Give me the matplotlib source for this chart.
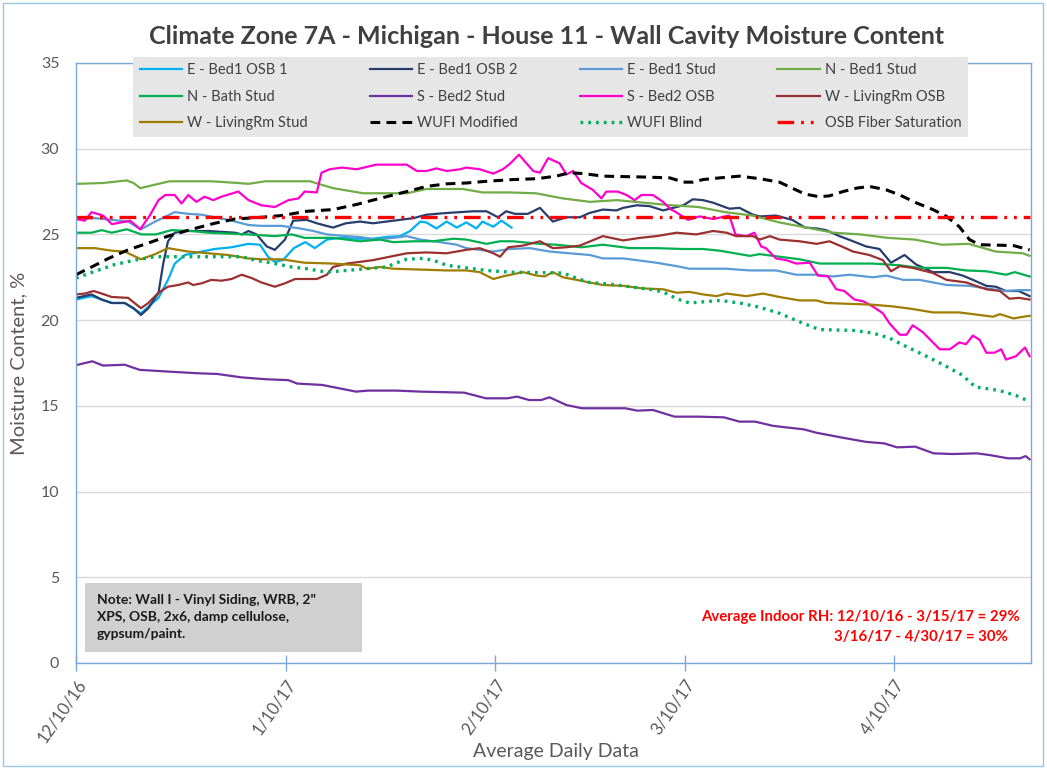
import numpy as np
import pandas as pd
import matplotlib
matplotlib.use('Agg')
import matplotlib.pyplot as plt
from matplotlib.patches import Rectangle

plt.rcParams['font.family'] = ['Lato', 'DejaVu Sans']
plt.rcParams['lines.scale_dashes'] = False

start = pd.Timestamp('2016-12-10')
tick_labels = ['12/10/16', '1/10/17', '2/10/17', '3/10/17', '4/10/17']
y_ticks = [0, 5, 10, 15, 20, 25, 30, 35]

# (days after 12/10/16, moisture content %)
e_osb1 = np.array([(0, 21.2), (2.3, 21.4), (5.3, 21.0), (7.2, 21.0), (9.6, 20.4), (12.2, 21.3),
                   (13.6, 22.35), (14.6, 23.3), (16.1, 23.8), (18.6, 24.0), (20.5, 24.15), (23, 24.25),
                   (25.5, 24.45), (27.2, 24.4), (28.4, 23.7), (29.4, 23.4), (30.6, 23.5), (32.2, 24.2),
                   (33.9, 24.55), (35.3, 24.2), (37.1, 24.7), (39, 24.8), (41.5, 24.75), (43.9, 24.75),
                   (45.9, 24.85), (47.9, 24.9), (49.4, 25.2), (50.9, 25.75), (51.8, 25.7), (53.3, 25.35),
                   (54.8, 25.75), (56.3, 25.4), (57.7, 25.7), (59.2, 25.35), (60.1, 25.75), (61.7, 25.45),
                   (62.9, 25.8), (64.4, 25.4)])

e_osb2 = np.array([(0, 21.3), (2.3, 21.5), (3.8, 21.2), (5.3, 21.0), (7.2, 21.0), (8.5, 20.7), (9.6, 20.3),
                   (10.7, 20.7), (12.2, 21.6), (12.9, 23.3), (13.6, 24.6), (14.6, 25.1), (16.1, 25.2),
                   (19.6, 25.2), (23.5, 25.1), (24.5, 25.0), (25.5, 25.2), (26.7, 25.0), (28.2, 24.3),
                   (29.4, 24.1), (30.9, 24.7), (32.1, 25.8), (34.1, 25.85), (35.6, 25.65), (38, 25.4),
                   (39.9, 25.65), (42, 25.75), (43.9, 25.65), (45.9, 25.75), (49.9, 25.95), (51.8, 26.15),
                   (54.8, 26.25), (58.7, 26.35), (60.7, 26.35), (62.4, 26.0), (63.6, 26.35), (64.9, 26.2),
                   (66.8, 26.2), (68.6, 26.55), (70.5, 25.75), (72.5, 26.0), (74.5, 26.0), (75.9, 26.25),
                   (77.9, 26.45), (79.9, 26.4), (80.9, 26.55), (82.9, 26.7), (84.8, 26.65), (86.8, 26.4),
                   (89.8, 26.7), (91.2, 27.05), (92.7, 27.0), (94.2, 26.85), (96.6, 26.5), (98.1, 26.55),
                   (100.1, 26.15), (101.1, 26.05), (103.5, 26.1), (105.9, 25.85), (107.8, 25.4),
                   (109.5, 25.35), (110.9, 25.25), (112.9, 24.9), (114.9, 24.6), (116.8, 24.3),
                   (118.8, 24.15), (120.5, 23.35), (122.5, 23.8), (124.2, 23.25), (126.7, 22.8),
                   (129.2, 22.8), (131.1, 22.6), (132.6, 22.35), (134.6, 22.0), (136, 21.95), (137.5, 21.7),
                   (139.4, 21.7), (141, 21.4)])

e_stud = np.array([(0, 25.9), (2.8, 25.95), (5.3, 25.85), (7.7, 25.75), (9.6, 25.3), (11.7, 25.75),
                   (14.6, 26.3), (16.6, 26.2), (18.6, 26.15), (20.5, 26.0), (22.5, 25.85), (25.5, 25.55),
                   (27.4, 25.5), (30.4, 25.5), (33.1, 25.35), (35.1, 25.2), (37.1, 25.0), (40, 24.9),
                   (42, 24.85), (44.4, 24.7), (46.9, 24.8), (48.9, 24.9), (50.9, 24.7), (53.8, 24.55),
                   (56.3, 24.4), (57.7, 24.2), (59.7, 24.1), (61.7, 24.0), (64.1, 24.15), (67.1, 24.2),
                   (70.1, 24.0), (73, 23.9), (76, 23.8), (77.9, 23.6), (80.9, 23.6), (82.9, 23.5),
                   (85.8, 23.35), (88.8, 23.15), (90.7, 23.0), (96.1, 23.0), (99.6, 22.9), (103.5, 22.9),
                   (106.5, 22.65), (109.5, 22.65), (111.9, 22.55), (114.4, 22.65), (117.8, 22.5),
                   (119.8, 22.6), (122.3, 22.35), (124.7, 22.35), (128.7, 22.05), (132.1, 22.0),
                   (134.6, 21.85), (137.5, 21.7), (139.4, 21.75), (141, 21.75)])

n_bed_stud = np.array([(0, 27.95), (4, 28.0), (7.5, 28.15), (8.5, 28.0), (9.5, 27.7), (12.2, 27.95),
                       (13.8, 28.1), (20, 28.1), (24, 28.0), (25.5, 27.95), (28, 28.1), (34.6, 28.1),
                       (38, 27.7), (42.5, 27.4), (48.9, 27.4), (51.8, 27.65), (57.2, 27.65), (60.1, 27.45),
                       (64, 27.45), (68, 27.4), (72, 27.1), (76, 26.9), (80, 27.0), (84, 26.85), (88, 26.7),
                       (92, 26.6), (96, 26.3), (100, 26.1), (104, 25.7), (108, 25.4), (112, 25.1),
                       (116, 25.0), (120, 24.8), (124, 24.7), (128, 24.4), (132, 24.45), (136, 24.0),
                       (140, 23.9), (141, 23.75)])

n_bath_stud = np.array([(0, 25.1), (2.3, 25.1), (3.8, 25.25), (5.3, 25.1), (7.5, 25.3), (9.7, 25.0),
                        (11.8, 25.0), (14.1, 25.25), (17.1, 25.2), (19.6, 25.1), (22.5, 25.05), (25.5, 25.0),
                        (29.4, 24.9), (31.9, 25.0), (33.8, 24.8), (38, 24.8), (42, 24.6), (44.9, 24.7),
                        (46.9, 24.55), (49.9, 24.6), (52.8, 24.6), (55.8, 24.75), (57.7, 24.7),
                        (60.7, 24.45), (62.7, 24.6), (64.6, 24.6), (68.6, 24.45), (71, 24.4), (74.7, 24.25),
                        (77.9, 24.4), (81.9, 24.2), (85.8, 24.2), (89.8, 24.15), (92.7, 24.15),
                        (95.2, 24.05), (99.6, 23.75), (101.1, 23.85), (104, 23.7), (107, 23.55), (110, 23.3),
                        (113.9, 23.3), (117.8, 23.3), (121.8, 23.2), (124.7, 23.05), (128.7, 23.05),
                        (131.6, 22.9), (134.6, 22.85), (137.5, 22.65), (138.8, 22.8), (141, 22.55)])

s_bed_stud = np.array([(0.3, 17.4), (2.4, 17.6), (4, 17.35), (7.2, 17.4), (9.4, 17.1), (13.6, 17.0),
                       (18.1, 16.9), (20.9, 16.86), (24.5, 16.66), (28.2, 16.55), (31.4, 16.5), (32.7, 16.3),
                       (36.4, 16.22), (38.2, 16.08), (41.4, 15.83), (43.2, 15.89), (47.4, 15.89),
                       (51, 15.83), (57.4, 15.77), (60.6, 15.44), (63.8, 15.44), (65.2, 15.54), (67, 15.34),
                       (68.8, 15.34), (70, 15.5), (72.5, 15.05), (74.8, 14.86), (81.2, 14.86), (83, 14.72),
                       (85.3, 14.76), (88.5, 14.37), (92.1, 14.37), (95.8, 14.33), (98.1, 14.08),
                       (100.4, 14.08), (103.1, 13.83), (107.6, 13.63), (109.5, 13.43), (113.1, 13.16),
                       (116.8, 12.9), (119.5, 12.81), (121.4, 12.58), (124.1, 12.62), (126.8, 12.23),
                       (129.6, 12.19), (133.2, 12.23), (135.1, 12.13), (137.8, 11.94), (139.6, 11.94),
                       (140.4, 12.07), (141, 11.88)])

s_bed_osb = np.array([(0, 25.9), (1.3, 25.8), (2.3, 26.3), (4, 26.1), (5.3, 25.6), (6.7, 25.7), (8, 25.8),
                      (9.5, 25.3), (10.9, 26.1), (12.2, 27.0), (13.2, 27.3), (14.6, 27.3), (15.6, 26.8),
                      (16.6, 27.3), (17.8, 26.9), (19, 27.2), (20.3, 27.0), (21.5, 27.2), (24, 27.5),
                      (25.5, 27.0), (27.4, 26.7), (29.4, 26.6), (31.4, 27.0), (32.9, 27.1), (33.8, 27.5),
                      (35.6, 27.45), (36.3, 28.6), (37.5, 28.8), (39.3, 28.9), (41.5, 28.8), (44.4, 29.07),
                      (48.9, 29.07), (50.4, 28.7), (51.8, 28.7), (53.3, 28.85), (54.8, 28.7), (56.8, 28.8),
                      (57.7, 28.9), (59.7, 28.8), (61.7, 28.55), (63.1, 28.8), (64.1, 29.1), (65.5, 29.65),
                      (67.6, 28.7), (68.6, 28.6), (69.8, 29.45), (71.5, 29.15), (72.5, 28.5), (73.5, 28.7),
                      (74.7, 28.0), (76.4, 27.6), (77.7, 27.1), (78.4, 27.5), (80.1, 27.5), (81.4, 27.3),
                      (82.6, 27.0), (83.6, 27.3), (85.3, 27.3), (86.8, 26.9), (88, 26.45), (88.5, 26.35),
                      (90.5, 25.85), (92.2, 26.05), (94.2, 25.9), (96.6, 26.1), (97.5, 25.0), (99.1, 24.9),
                      (100.3, 25.1), (101.3, 24.3), (102, 24.2), (103.5, 23.6), (105, 23.5), (106.5, 23.3),
                      (108.5, 23.35), (109.7, 22.6), (111.2, 22.55), (112.4, 21.8), (113.6, 21.7),
                      (115.1, 21.2), (116.4, 21.1), (117.8, 20.8), (119.3, 20.4), (120.3, 19.8),
                      (121.8, 19.15), (122.8, 19.15), (123.7, 19.7), (125.2, 19.3), (127.7, 18.3),
                      (129.2, 18.3), (130.6, 18.7), (131.6, 18.6), (132.6, 19.1), (133.6, 18.85),
                      (134.6, 18.1), (135.8, 18.1), (136.8, 18.3), (137.5, 17.7), (139, 17.9), (140.3, 18.4),
                      (141, 17.9)])

w_osb = np.array([(0, 21.5), (1.3, 21.55), (2.6, 21.7), (3.8, 21.55), (5.3, 21.35), (7.7, 21.3), (9.6, 20.7),
                  (10.7, 21.0), (12.2, 21.6), (13.6, 21.95), (15.1, 22.05), (16.6, 22.2), (17.3, 22.05),
                  (18.6, 22.15), (20, 22.35), (21.5, 22.3), (23, 22.4), (24.5, 22.65), (26, 22.45),
                  (27.4, 22.2), (29.4, 21.95), (30.9, 22.15), (32.4, 22.4), (35.6, 22.4), (37.1, 22.65),
                  (38, 23.1), (40, 23.3), (42, 23.4), (43.9, 23.5), (46.4, 23.7), (48.9, 23.9),
                  (51.8, 23.95), (54.8, 23.9), (57.7, 24.1), (59.7, 24.2), (61.7, 23.9), (62.7, 23.7),
                  (63.9, 24.25), (66.1, 24.35), (68.6, 24.6), (70.5, 24.2), (72.5, 24.25), (74.5, 24.35),
                  (77.9, 24.9), (80.9, 24.65), (83.4, 24.8), (85.8, 24.9), (88.8, 25.1), (91.7, 25.0),
                  (94.2, 25.2), (96.2, 25.1), (97.6, 24.9), (100.1, 24.9), (101.1, 24.7), (102.6, 24.9),
                  (104, 24.7), (107, 24.6), (109.5, 24.45), (111.4, 24.6), (112.9, 24.35), (114.9, 24.0),
                  (117.3, 23.8), (119.3, 23.5), (120.5, 22.85), (121.8, 23.15), (123.7, 23.05),
                  (126.7, 22.75), (128.7, 22.35), (131.6, 22.2), (134.6, 21.8), (136.6, 21.7),
                  (138, 21.25), (139.4, 21.3), (141, 21.2)])

w_stud = np.array([(0, 24.2), (2.8, 24.2), (5.3, 24.05), (7.2, 24.0), (9.6, 23.55), (11.7, 23.85),
                   (13.6, 24.2), (15.1, 24.1), (16.6, 24.0), (19.6, 23.9), (22.5, 23.8), (25.5, 23.6),
                   (27.4, 23.55), (30.4, 23.55), (33.8, 23.35), (38, 23.3), (42, 23.2), (43, 23.0),
                   (45, 23.1), (46.9, 23.0), (50.9, 22.95), (54.8, 22.9), (57.7, 22.9), (59.7, 22.8),
                   (61.7, 22.4), (63.1, 22.55), (66.1, 22.8), (68.1, 22.6), (69.3, 22.55), (70.5, 22.8),
                   (72, 22.5), (74, 22.35), (75.9, 22.2), (77.9, 22.05), (80.9, 22.0), (83.8, 21.85),
                   (86.8, 21.8), (88.8, 21.6), (90.7, 21.65), (92.7, 21.5), (94.7, 21.4), (96.2, 21.55),
                   (99.1, 21.4), (101.6, 21.55), (104, 21.35), (107, 21.15), (109.5, 21.15), (110.9, 21.0),
                   (114.4, 20.95), (117.8, 20.9), (120.8, 20.8), (123.7, 20.65), (126.7, 20.45),
                   (130.6, 20.45), (133.6, 20.3), (135.6, 20.2), (136.6, 20.35), (138.6, 20.1),
                   (140.1, 20.2), (141, 20.25)])

wufi_mod = np.array([(0, 22.65), (2.3, 23.1), (4.8, 23.6), (7.7, 24.1), (10.7, 24.5), (13.6, 24.9),
                     (17.1, 25.3), (20.5, 25.65), (23.5, 25.9), (27.4, 26.0), (30.4, 26.1), (34.1, 26.35),
                     (38, 26.45), (41.5, 26.75), (43.9, 27.0), (46.4, 27.25), (48.9, 27.5), (51.8, 27.8),
                     (54.8, 27.95), (57.7, 28.0), (60.7, 28.1), (64.6, 28.2), (68.1, 28.25), (71, 28.4),
                     (73, 28.6), (75, 28.55), (77.9, 28.4), (83.8, 28.35), (87.8, 28.3), (89.8, 28.05),
                     (91.2, 28.05), (92.7, 28.2), (95.2, 28.3), (98.1, 28.4), (101.1, 28.25), (104, 28.05),
                     (105.9, 27.7), (107.8, 27.35), (109.9, 27.2), (111.4, 27.25), (113.4, 27.5),
                     (115.4, 27.7), (117.3, 27.8), (119.8, 27.6), (121.8, 27.3), (124.2, 26.85),
                     (126.7, 26.45), (128.7, 26.05), (130.6, 25.45), (132.1, 24.7), (133.6, 24.4),
                     (138.6, 24.35), (141, 24.1)])

wufi_blind = np.array([(0, 22.45), (2.8, 22.85), (5.8, 23.25), (8.7, 23.5), (11.7, 23.7), (24.5, 23.7),
                       (26.5, 23.5), (29.4, 23.3), (31.9, 23.1), (34.1, 23.0), (37.1, 22.8), (40, 22.9),
                       (42.9, 23.0), (45.9, 23.1), (47.4, 23.35), (48.9, 23.55), (50.9, 23.6), (52.8, 23.5),
                       (54.8, 23.2), (57.7, 23.05), (60.7, 22.9), (64.1, 22.8), (72, 22.75), (74, 22.45),
                       (75.9, 22.2), (78.9, 22.1), (81.9, 21.95), (84.8, 21.8), (86.8, 21.65), (88.8, 21.25),
                       (90.7, 21.0), (95.2, 21.15), (98.1, 21.0), (101.1, 20.75), (104, 20.4), (107, 19.9),
                       (109.9, 19.45), (114.9, 19.4), (117.8, 19.25), (120.3, 18.95), (122.8, 18.45),
                       (125.7, 17.9), (128.7, 17.3), (131, 16.8), (133, 16.1), (136.5, 15.9), (139, 15.6),
                       (141, 15.25)])

osb_fiber_sat = np.array([(0, 26.0), (141, 26.0)])

series = [
    ('E - Bed1 OSB 1', e_osb1, dict(color='#00B0F0')),
    ('E - Bed1 OSB 2', e_osb2, dict(color='#263D6E')),
    ('E - Bed1 Stud', e_stud, dict(color='#5B9BD5')),
    ('N - Bed1 Stud', n_bed_stud, dict(color='#70AD47')),
    ('N - Bath Stud', n_bath_stud, dict(color='#00B050')),
    ('S - Bed2 Stud', s_bed_stud, dict(color='#7030A0')),
    ('S - Bed2 OSB', s_bed_osb, dict(color='#FF00CC')),
    ('W - LivingRm OSB', w_osb, dict(color='#9B3030')),
    ('W - LivingRm Stud', w_stud, dict(color='#A07D00')),
    ('WUFI Modified', wufi_mod, dict(color='black', lw=2.2, dashes=(7, 4.5))),
    ('WUFI Blind', wufi_blind, dict(color='#00B060', lw=2.4, dashes=(2, 3.6))),
    ('OSB Fiber Saturation', osb_fiber_sat, dict(color='#FF0000', lw=2.4, dashes=(12, 5, 2, 5, 2, 5))),
]

W, H = 1047, 768
fig = plt.figure(figsize=(W / 100, H / 100), dpi=100)
ax = fig.add_axes([76 / W, 1 - 663 / H, (1031 - 76) / W, 600 / H])

lines = []
for name, arr, style in series:
    kw = dict(lw=1.6)
    kw.update(style)
    dates = start + pd.to_timedelta(arr[:, 0], unit='D')
    ln, = ax.plot(dates, arr[:, 1], label=name, **kw)
    lines.append(ln)

ax.set_xlim(start, start + pd.Timedelta(days=141.2))
ax.set_ylim(0, 35)
ax.set_yticks(y_ticks)
ax.set_yticklabels([str(v) for v in y_ticks])
ax.set_xticks([pd.Timestamp(pd.to_datetime(t, format='%m/%d/%y')) for t in tick_labels])
ax.set_xticklabels(tick_labels, rotation=55, ha='right', va='top', rotation_mode='anchor')

border = '#7BA7D9'
for s in ax.spines.values():
    s.set_color(border)
    s.set_linewidth(1)
ax.yaxis.grid(True, color='#D9D9D9', lw=1)
ax.set_axisbelow(True)
ax.tick_params(axis='y', length=0, pad=12, labelsize=11.5, labelcolor='#595959')
ax.tick_params(axis='x', direction='inout', length=12, width=1, color=border,
               pad=4, labelsize=12, labelcolor='#595959')

ax.set_ylabel('Moisture Content, %', fontsize=14.5, color='#595959')
ax.yaxis.set_label_coords((27 - 76) / 955, 0.5)
fig.text(556 / W, 1 - 752 / H, 'Average Daily Data', ha='center', va='center',
         fontsize=14, color='#595959')
fig.text(547 / W, 1 - 37 / H, 'Climate Zone 7A - Michigan - House 11 - Wall Cavity Moisture Content',
         ha='center', va='center', fontsize=18, fontweight='bold', color='#404040')

# legend filled row by row like the original
order = [0, 4, 8, 1, 5, 9, 2, 6, 10, 3, 7, 11]
leg = ax.legend([lines[i] for i in order], [series[i][0] for i in order], ncol=4,
                loc='lower left', bbox_to_anchor=(0.06, 0.877, 0.874, 0.14), mode='expand',
                fontsize=10.5, frameon=True, fancybox=False, facecolor='#E6E6E6', edgecolor='none',
                framealpha=1, handlelength=2.9, handletextpad=0.35, labelspacing=0.85,
                borderpad=0.45, borderaxespad=0)
for t in leg.get_texts():
    t.set_color('#404040')

# note box
ax.add_patch(Rectangle((85 / W, 1 - 652 / H), (362 - 85) / W, (652 - 583) / H,
                       transform=fig.transFigure, facecolor='#D0D0D0', edgecolor='none', zorder=5))
fig.text(97 / W, 1 - 617 / H, 'Note: Wall I - Vinyl Siding, WRB, 2"\nXPS, OSB, 2x6, damp cellulose,\ngypsum/paint.',
         ha='left', va='center', fontsize=10, fontweight='bold', color='#1A1A1A', linespacing=1.45, zorder=6)

fig.text(1020 / W, 1 - 617 / H, 'Average Indoor RH: 12/10/16 - 3/15/17 = 29%', ha='right', va='center',
         fontsize=10.8, fontweight='bold', color='#FF0000')
fig.text(1008 / W, 1 - 637 / H, '3/16/17 - 4/30/17 = 30%', ha='right', va='center',
         fontsize=10.8, fontweight='bold', color='#FF0000')

# chart frame
fig.patches.append(Rectangle((3 / W, 2 / H), (W - 7) / W, (H - 5) / H, transform=fig.transFigure,
                             fill=False, edgecolor='#9DC3E6', lw=1))

fig.savefig('out.png', dpi=100)
